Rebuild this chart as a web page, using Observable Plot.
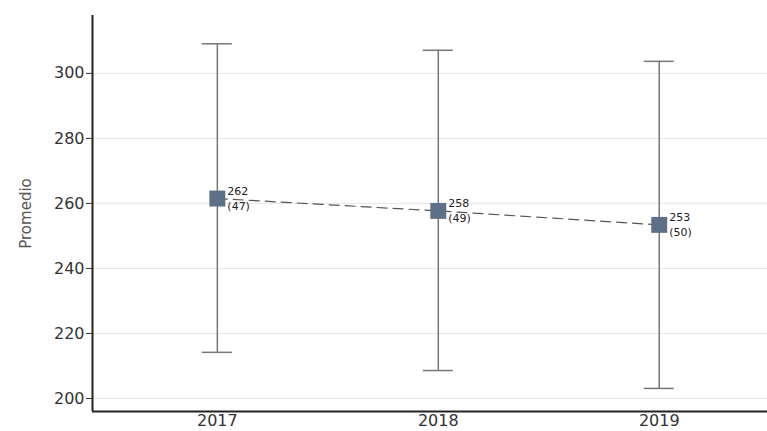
<!DOCTYPE html>
<html>
<head>
<meta charset="utf-8">
<script src="https://cdn.jsdelivr.net/npm/d3@7"></script>
<script src="https://cdn.jsdelivr.net/npm/@observablehq/plot@0.6"></script>
<style>
  html, body { margin: 0; padding: 0; background: #fff; }
  #chart svg { display: block; }
</style>
</head>
<body>
<div id="chart"></div>
<script>
const years = [2017, 2018, 2019];
const means = [261.5, 257.7, 253.4];
const upper = [309.1, 307.1, 303.7];
const lower = [214.2, 208.6, 203.1];
const meanLabels = ["262", "258", "253"];
const countLabels = ["(47)", "(49)", "(50)"];
const yTicks = [200, 220, 240, 260, 280, 300];

const data = years.map((y, i) => ({
  year: y, mean: means[i], hi: upper[i], lo: lower[i],
  ml: meanLabels[i], cl: countLabels[i]
}));

const xDomain = [2016.435, 2019.49];
const yDomain = [196, 317.8];
const cap = 0.068;

const chart = Plot.plot({
  width: 767,
  height: 431,
  marginLeft: 92,
  marginRight: 0,
  marginTop: 15,
  marginBottom: 20,
  style: { fontFamily: "'DejaVu Sans', sans-serif", background: "#fff" },
  x: { domain: xDomain },
  y: { domain: yDomain },
  marks: [
    Plot.ruleY(yTicks, { stroke: "#e6e6e6", strokeWidth: 1 }),
    Plot.axisY({ ticks: yTicks, tickSize: 6, tickPadding: 2, fontSize: 16, color: "#333", label: null,
      style: { letterSpacing: "1px" } }),
    Plot.axisY({ ticks: [], tickSize: 0, label: "Promedio", labelAnchor: "center", labelArrow: "none",
      labelOffset: 72, fontSize: 15, color: "#555" }),
    Plot.axisX({ ticks: years, tickFormat: d => String(d), tickSize: 0, tickPadding: 3, fontSize: 16, color: "#333", label: null,
      style: { letterSpacing: "0.5px" } }),
    Plot.ruleX(data, { x: "year", y1: "lo", y2: "hi", stroke: "#777", strokeWidth: 1.5 }),
    Plot.ruleY(data, { y: "hi", x1: d => d.year - cap, x2: d => d.year + cap, stroke: "#777", strokeWidth: 1.5 }),
    Plot.ruleY(data, { y: "lo", x1: d => d.year - cap, x2: d => d.year + cap, stroke: "#777", strokeWidth: 1.5 }),
    Plot.line(data, { x: "year", y: "mean", stroke: "#555", strokeWidth: 1.2, strokeDasharray: "10,6" }),
    Plot.dot(data, { x: "year", y: "mean", symbol: "square", r: 9, fill: "#5d7087", stroke: "none" }),
    Plot.text(data, { x: "year", y: "mean", text: "ml", dx: 10, dy: -7, textAnchor: "start", fontSize: 11, fill: "#222",
      style: { letterSpacing: "1px" } }),
    Plot.text(data, { x: "year", y: "mean", text: "cl", dx: 10, dy: 8, textAnchor: "start", fontSize: 11, fill: "#222",
      style: { letterSpacing: "1px" } }),
    Plot.ruleX([xDomain[0]], { stroke: "#222", strokeWidth: 2 }),
    Plot.ruleY([yDomain[0]], { stroke: "#222", strokeWidth: 2 })
  ]
});
document.getElementById("chart").appendChild(chart);
</script>
</body>
</html>
